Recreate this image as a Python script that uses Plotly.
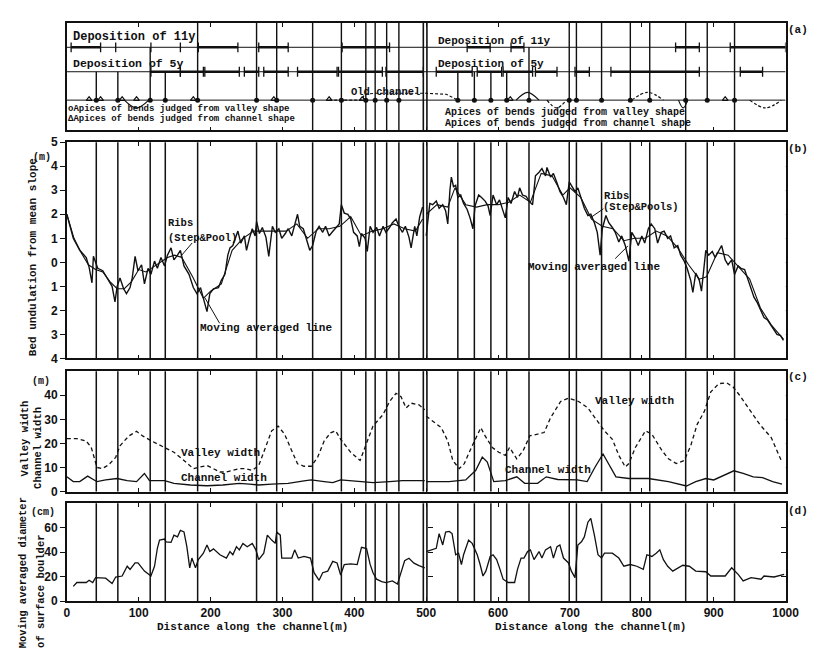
import plotly.graph_objects as go

W, H = 819, 650
INK = "#111111"
MONO = "Liberation Mono"
SANS = "Liberation Sans"

# ---------------- data ----------------
X_TICKS = [0, 100, 200, 300, 400, 500, 600, 700, 800, 900, 1000]

# (b) bed undulation from mean slope (m), ribs line
BED_L_X = [0, 9, 18, 27, 31, 35, 37, 43, 50, 56, 63, 67, 70, 74, 79, 83, 88, 91, 95, 99, 104, 108, 113, 117, 122,
           126, 131, 136, 140, 145, 149, 154, 158, 163, 170, 176, 181, 186, 190, 195, 199, 204, 211, 215, 220, 224,
           227, 231, 238, 242, 247, 250, 254, 258, 262, 264, 268, 272, 277, 281, 286, 290, 295, 299, 304, 308, 313,
           317, 321, 324, 329, 333, 338, 342, 347, 351, 356, 360, 365, 369, 374, 379, 382, 386, 391, 395, 399, 404,
           407, 410, 415, 418, 422, 426, 431, 435, 440, 444, 449, 453, 458, 462, 467, 471, 476, 479, 484, 487, 491, 495]
BED_L_Y = [2.0, 1.0, 0.5, 0.2, -0.2, -0.85, 0.25, -0.25, -0.35, -0.65, -1.0, -1.65, -1.0, -0.65, -1.1, -1.3, -1.05,
           -0.65, 0.25, -0.35, -0.1, -0.9, -0.25, -0.5, 0.05, -0.25, 0.2, -0.15, 0.3, 0.6, 0.1, 0.3, 0.5, -0.15, -0.5,
           -1.05, -1.3, -1.05, -1.45, -2.05, -1.3, -1.1, -1.05, -0.75, -0.5, 0.3, 0.6, 0.7, 1.3, 0.8, 1.1, 0.5, 1.0,
           1.4, 1.1, 1.7, 1.2, 1.45, 1.05, 0.25, 1.5, 1.25, 1.4, 1.0, 1.2, 1.4, 1.1, 1.5, 2.0, 1.5, 1.4, 1.0, 0.5, 0.7,
           1.3, 1.5, 1.25, 1.5, 1.1, 1.25, 1.45, 1.6, 2.4, 2.05, 2.0, 1.8, 1.25, 1.1, 0.65, 1.2, 1.0, 0.45, 1.5, 1.25,
           1.45, 1.1, 1.5, 1.25, 1.45, 1.65, 1.8, 1.5, 1.25, 1.5, 1.05, 0.6, 1.5, 1.1, 1.9, 2.3]
BED_R_X = [500, 505, 509, 514, 518, 523, 527, 530, 533, 535, 538, 541, 544, 548, 552, 557, 561, 565, 568, 573, 577,
           582, 586, 589, 593, 598, 602, 607, 610, 614, 618, 623, 627, 630, 634, 639, 643, 648, 652, 657, 661, 666,
           668, 673, 677, 682, 686, 691, 695, 699, 702, 707, 711, 716, 720, 725, 729, 734, 738, 742, 745, 750, 754,
           759, 763, 768, 772, 777, 782, 786, 791, 795, 800, 804, 809, 813, 818, 822, 827, 831, 836, 840, 845, 850,
           854, 859, 863, 868, 871, 875, 880, 883, 886, 889, 893, 898, 902, 907, 911, 916, 920, 925, 929, 934, 938,
           943, 947, 952, 956, 961, 965, 970, 975, 979, 984, 988, 993, 997]
BED_R_Y = [1.1, 2.45, 2.4, 2.55, 2.25, 2.4, 2.15, 1.6, 3.0, 3.55, 3.15, 3.2, 2.7, 2.8, 2.45, 2.2, 1.85, 1.4, 2.35,
           2.8, 2.7, 2.55, 2.35, 1.95, 2.8, 2.4, 2.6, 2.15, 1.85, 2.7, 2.45, 2.95, 2.7, 3.1, 2.8, 2.75, 2.55, 2.4, 3.6,
           3.75, 3.9, 3.6, 3.95, 3.55, 3.7, 3.3, 2.95, 2.7, 2.4, 3.35, 3.2, 2.95, 3.1, 2.6, 2.25, 1.95, 2.0, 1.65,
           1.25, 0.3, 1.4, 1.95, 1.65, 1.45, 1.25, 0.85, 1.1, 0.7, 0.05, 1.25, 1.0, 0.7, 1.1, 0.8, 1.4, 1.6, 1.4, 0.8,
           1.25, 1.3, 1.0, 1.1, 0.6, 0.7, 0.3, 0.05, -0.25, -0.75, -1.25, -0.45, -0.75, -1.2, -0.25, 0.5, 0.3, 0.45,
           0.2, 0.5, 0.7, 0.1, -0.1, 0.1, -0.5, -0.15, -0.25, -0.3, -0.65, -1.05, -1.45, -1.7, -2.0, -2.3, -2.4,
           -2.6, -2.85, -3.0, -3.05, -3.25]

# (b) moving averaged line
MA_L_X = [0, 10, 20, 30, 40, 50, 60, 70, 80, 90, 100, 110, 120, 130, 140, 150, 160, 175, 190, 200, 215, 230, 245,
          260, 275, 290, 305, 320, 335, 350, 365, 380, 395, 410, 425, 440, 455, 470, 485, 495]
MA_L_Y = [2.0, 1.0, 0.4, -0.1, -0.3, -0.4, -0.8, -1.1, -1.1, -0.8, -0.3, -0.4, -0.2, 0.0, 0.2, 0.3, 0.2, -0.6,
          -1.5, -1.2, -0.9, 0.5, 1.0, 1.3, 1.3, 1.3, 1.3, 1.6, 1.0, 1.4, 1.4, 1.5, 1.9, 1.1, 1.3, 1.4, 1.6, 1.4,
          1.3, 1.8]
MA_R_X = [500, 515, 530, 540, 555, 570, 585, 600, 615, 630, 645, 660, 675, 690, 700, 715, 730, 745, 760, 775, 790,
          805, 820, 835, 850, 865, 880, 890, 905, 920, 935, 950, 965, 980, 997]
MA_R_Y = [2.0, 2.4, 2.3, 3.1, 2.4, 2.3, 2.4, 2.4, 2.5, 2.8, 2.5, 3.7, 3.6, 2.8, 3.1, 2.7, 1.8, 1.5, 1.4, 0.9, 1.0,
          1.0, 1.3, 1.1, 0.6, -0.1, -0.7, -0.6, 0.4, 0.3, -0.2, -0.7, -1.9, -2.6, -3.2]

# (c) valley width and channel width (m)
VALLEY_L_X = [0, 14, 27, 34, 42, 49, 58, 68, 74, 86, 97, 106, 118, 136, 149, 163, 176, 186, 195, 204, 213, 222,
              231, 240, 249, 258, 267, 276, 285, 294, 303, 312, 321, 330, 340, 349, 358, 367, 374, 381, 395, 408,
              417, 426, 440, 449, 458, 465, 472, 479, 490, 498]
VALLEY_L_Y = [22, 22, 21, 18.3, 10, 9.5, 11, 14.2, 19, 23, 25, 23, 21, 18.3, 16.3, 12.9, 9.5, 10.2, 10.8, 9.5,
              8.1, 8.1, 8.8, 9.5, 9.5, 8.8, 10.8, 18.3, 25.2, 27.2, 23.8, 17.6, 11.5, 10.5, 10.5, 14.3, 21, 24.4,
              25.2, 21.7, 16.3, 12.9, 19.7, 27.2, 32, 37.4, 40.8, 39.4, 34.7, 36.7, 36, 34]
VALLEY_R_X = [500, 509, 521, 530, 537, 546, 553, 562, 576, 582, 592, 601, 610, 616, 626, 635, 644, 655, 664, 673,
              687, 698, 712, 725, 739, 748, 759, 768, 777, 782, 791, 805, 814, 828, 837, 848, 859, 868, 877, 887,
              896, 907, 918, 927, 936, 950, 964, 980, 994]
VALLEY_R_Y = [31.3, 29.2, 26.5, 21, 12.9, 9.5, 11.6, 17.7, 26.5, 23.1, 18.3, 16.3, 15, 18.3, 13.6, 17, 23.1, 23.8,
              24.5, 30.6, 37.4, 38.8, 37.4, 34.7, 29.2, 25.2, 21.7, 15, 10.2, 11.6, 18.3, 25.2, 23.8, 17, 13.6, 11.6,
              12.9, 19, 27.9, 33.3, 41.4, 44.8, 45.2, 43.4, 40, 34, 27.9, 22.4, 12.9]
CHANNEL_L_X = [0, 9, 18, 29, 38, 42, 54, 70, 84, 97, 108, 115, 136, 149, 172, 195, 217, 240, 254, 267, 285, 308,
               330, 340, 358, 370, 381, 404, 426, 449, 467, 490, 498]
CHANNEL_L_Y = [6.1, 4.1, 4.1, 6.4, 4.8, 4.1, 4.8, 5.4, 4.5, 4.1, 7.5, 4.5, 4.5, 3.4, 2.7, 2.4, 2.7, 3.4, 3.1, 2.7,
               3.1, 3.4, 4.4, 4.8, 4.1, 3.7, 4.8, 4.1, 3.7, 4.1, 4.5, 4.5, 4.5]
CHANNEL_R_X = [500, 532, 555, 569, 578, 585, 594, 610, 626, 637, 655, 667, 683, 710, 724, 735, 746, 755, 764, 782,
               809, 837, 862, 875, 889, 900, 914, 928, 941, 955, 968, 982, 995]
CHANNEL_R_Y = [4.1, 4.1, 4.8, 8.8, 14.3, 12.2, 4.1, 4.5, 6.1, 3.4, 3.4, 6.1, 5, 4.8, 4.1, 10.2, 15.6, 10.8, 6.1,
               5.4, 5.4, 4.1, 2.3, 4.1, 5.4, 4.8, 6.8, 8.6, 7.5, 6.1, 5.8, 4.1, 3.1]

# (d) moving averaged diameter of surface boulder (cm)
BOULDER_L_X = [9, 14, 27, 31, 36, 40, 54, 58, 63, 68, 77, 84, 88, 95, 99, 108, 115, 117, 122, 126, 129, 136, 138,
               145, 149, 154, 158, 163, 167, 171, 174, 179, 183, 190, 195, 199, 204, 213, 222, 227, 231, 236, 240,
               245, 251, 258, 263, 267, 274, 279, 285, 290, 292, 297, 299, 313, 317, 322, 330, 339, 344, 351, 356,
               363, 370, 376, 381, 386, 395, 404, 410, 417, 422, 426, 431, 438, 444, 453, 460, 465, 470, 476, 483,
               490, 498]
BOULDER_L_Y = [12, 15.2, 15.2, 17, 15.2, 19.2, 18.7, 16.5, 14.4, 19.7, 20.5, 28.5, 25.9, 31.2, 31.2, 24.5, 21.3,
               20.5, 28.5, 43.2, 49.9, 50.7, 48.5, 48, 53.9, 52.5, 57.9, 56.5, 44.5, 27.2, 35.2, 27.2, 33.9, 39.2,
               45.9, 40.5, 42.7, 37.9, 35.2, 40.5, 37.9, 44.5, 41.9, 47.2, 44.5, 47.2, 41.9, 33.9, 39.2, 53.9, 49.9,
               47.2, 56.5, 53.9, 35.2, 35.2, 41.9, 35.2, 36.5, 35.2, 23.2, 17, 23.2, 24.5, 32.5, 31.2, 21.3, 29.9,
               30.4, 29.9, 44, 43, 30, 23.2, 17.9, 16, 15.2, 16.5, 13.9, 24.5, 33, 35, 31, 29, 27.2]
BOULDER_R_X = [500, 509, 514, 518, 523, 527, 532, 536, 541, 545, 549, 552, 559, 564, 571, 575, 579, 583, 589, 593,
               598, 602, 607, 614, 623, 627, 632, 636, 641, 645, 650, 657, 661, 666, 673, 677, 682, 686, 691, 698,
               702, 707, 711, 716, 720, 725, 729, 734, 739, 744, 748, 759, 768, 775, 784, 793, 802, 807, 814, 820,
               825, 830, 836, 843, 850, 857, 866, 875, 889, 896, 916, 925, 934, 941, 952, 966, 970, 984, 998]
BOULDER_R_Y = [40.5, 41.9, 43.2, 55.2, 45.9, 56.5, 57, 55.2, 37.9, 39.2, 29.9, 37.9, 49.9, 47.2, 37.9, 29.9, 20.5,
               24.5, 36.5, 37.9, 33.9, 27.2, 17.9, 15.2, 15.2, 25.9, 35.2, 35.2, 40.5, 41.9, 33.9, 40.5, 35.2, 41.9,
               44.5, 35.2, 44.5, 45.9, 35.2, 31.2, 24.5, 19.2, 45.9, 48.5, 52.5, 64.5, 67.7, 53.9, 37.9, 35.2, 39.2,
               39.2, 35.2, 28.5, 29.9, 28.5, 25.9, 37.9, 36.5, 39.2, 41.9, 33.9, 28.5, 24.5, 27.2, 29.3, 28.5, 24.5,
               24, 20.5, 20.5, 27.2, 21.9, 16.5, 19.2, 17.9, 20.5, 19.7, 21.9]

# apex lines running through panels (b)-(d)
APEX_LINES = [41, 71, 116, 137, 182, 264, 292, 342, 382, 416, 429, 445, 462,
              544, 567, 590, 612, 643, 699, 709, 744, 784, 811, 861, 891, 929]
# panel (a): lines (position, top level, bottom level)
A_LINES = [(41, "5y", "apex"), (71, "5y", "apex"), (116, "11y", "apex"), (137, "5y", "apex"),
           (182, "top", "apex"), (264, "top", "apex"), (292, "top", "apex"), (342, "top", "bottom"),
           (382, "top", "bottom"), (416, "top", "bottom"), (429, "top", "bottom"), (445, "top", "bottom"),
           (462, "top", "bottom"), (544, "5y", "apex"), (567, "5y", "apex"), (590, "5y", "apex"),
           (612, "5y", "apex"), (643, "11y", "apex"), (699, "top", "bottom"), (709, "top", "apex"),
           (744, "top", "apex"), (784, "top", "apex"), (811, "top", "apex"), (861, "top", "bottom"),
           (891, "top", "apex"), (929, "top", "bottom")]
DEP11 = [(6, 47), (183, 238), (267, 308), (383, 449), (557, 589), (618, 636), (847, 880), (923, 1000)]
DEP11_TICKS = [68, 117, 158]
DEP5 = [(117, 158), (158, 190), (192, 240), (247, 267), (274, 308), (321, 376), (378, 439), (444, 496),
        (514, 564), (571, 605), (607, 648), (652, 682), (707, 727), (757, 880), (937, 968)]
APEX_CIRCLES = [41, 71, 116, 137, 182, 264, 292, 342, 382, 416, 429, 445, 462,
                544, 567, 590, 612, 643, 699, 709, 744, 784, 811, 861, 891, 929]
APEX_TRIANGLES = [31, 47, 77, 97, 176, 288, 365, 411, 617, 916]
# loops of the apex row: (from, to, +1 above / -1 below, dashed)
ARCS = [(80, 114, -1, False), (625, 657, 1, False), (668, 695, -1, True), (786, 830, 1, True),
        (851, 864, -1, False), (950, 994, -1, True)]
OLD_CHANNEL_X = [365, 411, 414, 430, 500, 528, 544]
OLD_CHANNEL_LV = [31, 31, 37, 38, 38, 37, 31]

LEVEL = {"top": 110, "11y": 85, "5y": 60, "apex": 31, "bottom": 0}


def px(x):
    return x / W


def py(y):
    return 1 - y / H


def join(ax, ay, bx, by):
    return ax + [None] + bx, ay + [None] + by


fig = go.Figure()
LINE = dict(color=INK, width=1.3)

# (d)
bx, by = join(BOULDER_L_X, BOULDER_L_Y, BOULDER_R_X, BOULDER_R_Y)
fig.add_trace(go.Scatter(x=bx, y=by, mode="lines", line=LINE, xaxis="x", yaxis="y"))
# (c)
vx, vy = join(VALLEY_L_X, VALLEY_L_Y, VALLEY_R_X, VALLEY_R_Y)
fig.add_trace(go.Scatter(x=vx, y=vy, mode="lines", line=dict(color=INK, width=1.3, dash="4px,3px"),
                         xaxis="x2", yaxis="y2"))
cx, cy = join(CHANNEL_L_X, CHANNEL_L_Y, CHANNEL_R_X, CHANNEL_R_Y)
fig.add_trace(go.Scatter(x=cx, y=cy, mode="lines", line=LINE, xaxis="x2", yaxis="y2"))
# (b)
mx, my = join(MA_L_X, MA_L_Y, MA_R_X, MA_R_Y)
fig.add_trace(go.Scatter(x=mx, y=my, mode="lines", line=dict(color=INK, width=1.1), xaxis="x3", yaxis="y3"))
rx, ry = join(BED_L_X, BED_L_Y, BED_R_X, BED_R_Y)
fig.add_trace(go.Scatter(x=rx, y=ry, mode="lines", line=dict(color=INK, width=1.4), xaxis="x3", yaxis="y3"))

# (a) base rows
for lv in ("11y", "5y", "apex"):
    fig.add_trace(go.Scatter(x=[0, 1000], y=[LEVEL[lv]] * 2, mode="lines", line=dict(color=INK, width=1),
                             xaxis="x4", yaxis="y4"))
for segs, lv, extra in ((DEP11, "11y", DEP11_TICKS), (DEP5, "5y", [])):
    sx, sy, tx = [], [], list(extra)
    for a, b in segs:
        sx += [a, b, None]
        sy += [LEVEL[lv], LEVEL[lv], None]
        tx += [a, b]
    fig.add_trace(go.Scatter(x=sx, y=sy, mode="lines", line=dict(color=INK, width=2.4), xaxis="x4", yaxis="y4"))
    fig.add_trace(go.Scatter(x=tx, y=[LEVEL[lv]] * len(tx), mode="markers",
                             marker=dict(symbol="line-ns", size=7, line=dict(color=INK, width=1.3)),
                             xaxis="x4", yaxis="y4"))
for x0, x1, d, dashed in ARCS:
    fig.add_trace(go.Scatter(x=[x0, (x0 + x1) / 2, x1], y=[LEVEL["apex"], LEVEL["apex"] + d * 8, LEVEL["apex"]],
                             mode="lines", line=dict(color=INK, width=1.2, shape="spline",
                                                     dash="3px,2px" if dashed else "solid"),
                             xaxis="x4", yaxis="y4"))
fig.add_trace(go.Scatter(x=OLD_CHANNEL_X, y=OLD_CHANNEL_LV, mode="lines",
                         line=dict(color=INK, width=1.1, dash="3px,2px"), xaxis="x4", yaxis="y4"))
fig.add_trace(go.Scatter(x=APEX_CIRCLES, y=[LEVEL["apex"]] * len(APEX_CIRCLES), mode="markers",
                         marker=dict(symbol="circle", size=5, color=INK), xaxis="x4", yaxis="y4"))
fig.add_trace(go.Scatter(x=APEX_TRIANGLES, y=[LEVEL["apex"] + 1] * len(APEX_TRIANGLES), mode="markers",
                         marker=dict(symbol="triangle-up-open", size=5, color=INK, line=dict(width=1.2)),
                         xaxis="x4", yaxis="y4"))

# dummy traces for tick-only overlay axes
for ya in ("y5", "y6", "y7", "y8", "y9", "y10"):
    fig.add_trace(go.Scatter(x=[None], y=[None], mode="markers", xaxis="x", yaxis=ya))

# ---------------- shapes ----------------
shapes = []
for pos in APEX_LINES:
    for xr, yr in (("x", "y domain"), ("x2", "y2 domain"), ("x3", "y3 domain")):
        shapes.append(dict(type="line", xref=xr, yref=yr, x0=pos, x1=pos, y0=0, y1=1,
                           line=dict(color=INK, width=1.5), layer="above"))
for pos, top, bot in A_LINES:
    shapes.append(dict(type="line", xref="x4", yref="y4", x0=pos, x1=pos, y0=LEVEL[bot], y1=LEVEL[top],
                       line=dict(color=INK, width=1.4)))
for xr, yr in (("x", "y domain"), ("x2", "y2 domain"), ("x3", "y3 domain"), ("x4", "y4 domain")):
    for dv in (496, 501):
        shapes.append(dict(type="line", xref=xr, yref=yr, x0=dv, x1=dv, y0=0, y1=1,
                           line=dict(color=INK, width=1.6)))
# leader lines of the labels
for (x0, y0, x1, y1) in [(185, 233, 173, 247), (213, 315, 198, 289), (605, 198, 592, 207), (617, 249, 630, 236)]:
    shapes.append(dict(type="line", xref="paper", yref="paper", x0=px(x0), y0=py(y0), x1=px(x1), y1=py(y1),
                       line=dict(color=INK, width=1)))

# ---------------- annotations ----------------
ann = []


def text(t, x, y, size=11, xanchor="left", yanchor="middle", angle=0, family=MONO, weight="bold"):
    ann.append(dict(text=t, x=px(x), y=py(y), xref="paper", yref="paper", showarrow=False, xanchor=xanchor,
                    yanchor=yanchor, textangle=angle,
                    font=dict(family=family, size=size, color=INK, weight=weight)))


text("Deposition of 11y", 61, 22, 12)
text("Deposition of 5y", 61, 50, 11.5)
text("oApices of bends judged from valley shape", 56, 96, 9)
text("ΔApices of bends judged from channel shape", 56, 106, 9)
text("Old channel", 345, 79, 10.5)
text("Deposition of 11y", 434, 27, 11)
text("Deposition of 5y", 434, 50, 11)
text("Apices of bends judged from valley shape", 441, 100, 10)
text("Apices of bends judged from channel shape", 441, 111, 10)
text("(a)", 791, 15, 11)

text("(m)", 32, 146, 10, xanchor="center")
text("Ribs", 158, 213, 10.5)
text("(Step&Pool)", 158, 228, 10.5)
text("Moving averaged line", 191, 320, 11)
text("Ribs", 604, 185, 10.5)
text("(Step&Pools)", 602, 196, 10.5)
text("Moving averaged line", 526, 258, 11)
text("(b)", 791, 137, 11)

text("(m)", 31, 375, 10, xanchor="center")
text("Valley width", 172, 448, 11)
text("Channel width", 172, 473, 11)
text("Valley width", 594, 394, 11)
text("Channel width", 502, 465, 11)
text("(c)", 791, 370, 11)

text("(cm)", 33, 508, 10, xanchor="center")
text("(d)", 791, 507, 11)

text("Bed undulation from mean slope", 22, 248, 11, xanchor="center", angle=-90)
text("Valley width", 14, 433, 10.5, xanchor="center", angle=-90)
text("Channel width", 28, 442, 10.5, xanchor="center", angle=-90)
text("Moving averaged diameter", 12, 649, 10.5, xanchor="center", yanchor="bottom", angle=-90)
text("of surface boulder", 30, 649, 10.5, xanchor="center", yanchor="bottom", angle=-90)
text("Distance along the channel(m)", 247, 625, 11, xanchor="center")
text("Distance along the channel(m)", 592, 625, 11, xanchor="center")

# ---------------- axes ----------------
XD = [px(57), px(791)]
DOM = {"d": [py(599), py(499)], "c": [py(487), py(364)], "b": [py(351), py(130)], "a": [py(118), py(8)]}
TICKFONT = dict(family=SANS, size=12, color=INK, weight="bold")


def xax(anchor, labels):
    return dict(range=[0, 1000], domain=XD, anchor=anchor, showline=True, linewidth=1.6, linecolor=INK,
                mirror="ticks", ticks="inside", ticklen=4, tickwidth=1.3, tickcolor=INK, tickvals=X_TICKS,
                showticklabels=labels, tickfont=TICKFONT, showgrid=False, zeroline=False, fixedrange=True)


def yax(dom, rng, vals, texts=None, ticks="outside", show=True):
    d = dict(domain=dom, range=rng, showline=True, linewidth=1.6, linecolor=INK, mirror=True, ticks=ticks,
             ticklen=5, tickwidth=1.3, tickcolor=INK, showgrid=False, zeroline=False, tickfont=TICKFONT,
             showticklabels=show, fixedrange=True)
    if vals is not None:
        d["tickvals"] = vals
        if texts is not None:
            d["ticktext"] = texts
    return d


def overlay(base, anchor, rng, vals, side, position=None):
    d = dict(overlaying=base, side=side, range=rng, tickvals=vals, ticks="inside", ticklen=5, tickwidth=1.3,
             tickcolor=INK, showticklabels=False, showline=False, showgrid=False, zeroline=False,
             fixedrange=True)
    if position is None:
        d["anchor"] = anchor
    else:
        d["anchor"] = "free"
        d["position"] = position
    return d


B_TICKS = [-4, -3, -2, -1, 0, 1, 2, 3, 4, 5]
B_TEXT = [str(abs(v)) for v in B_TICKS]
MID = px(425)

fig.update_layout(
    width=W, height=H, autosize=False, margin=dict(l=0, r=0, t=0, b=0),
    paper_bgcolor="white", plot_bgcolor="white", showlegend=False, hovermode=False,
    xaxis=xax("y", True), xaxis2=xax("y2", False), xaxis3=xax("y3", False), xaxis4=xax("y4", False),
    yaxis=yax(DOM["d"], [0, 80], [0, 20, 40, 60]),
    yaxis2=yax(DOM["c"], [0, 50], [0, 10, 20, 30, 40]),
    yaxis3=yax(DOM["b"], [-4, 5], B_TICKS, B_TEXT),
    yaxis4=yax(DOM["a"], [0, 110], [], ticks="", show=False),
    yaxis5=overlay("y", "x", [0, 80], [20, 40, 60], "right"),
    yaxis6=overlay("y2", "x2", [0, 50], [10, 20, 30, 40], "right"),
    yaxis7=overlay("y3", "x3", [-4, 5], [-3, -2, -1, 0, 1, 2, 3, 4], "right"),
    yaxis8=overlay("y", "x", [0, 80], [20, 40, 60], "left", MID),
    yaxis9=overlay("y2", "x2", [0, 50], [10, 20, 30, 40], "left", MID),
    yaxis10=overlay("y3", "x3", [-4, 5], [-3, -2, -1, 0, 1, 2, 3, 4], "left", MID),
    shapes=shapes, annotations=ann,
)

fig.write_html("out.html")
